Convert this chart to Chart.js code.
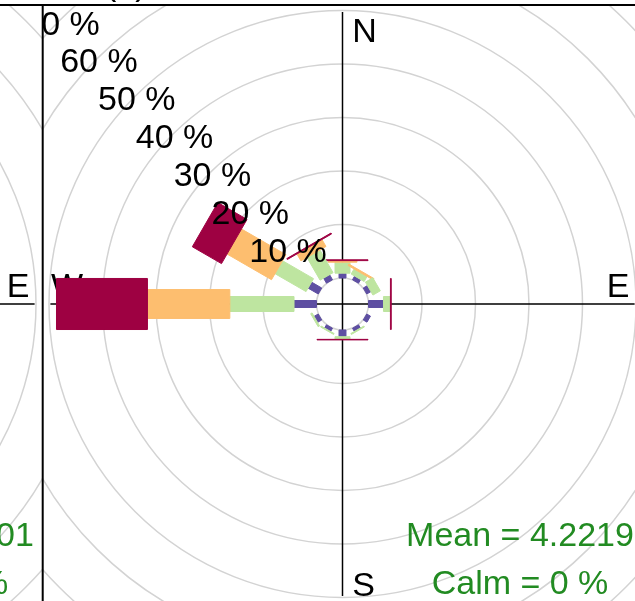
<!DOCTYPE html>
<html>
<head>
<meta charset="utf-8">
<script src="https://cdn.jsdelivr.net/npm/chart.js@4"></script>
<style>
html, body { margin: 0; padding: 0; background: #fff; overflow: hidden; }
canvas { display: block; }
</style>
</head>
<body>
<canvas id="rose" width="635" height="601"></canvas>
<script>
// wind direction sectors, degrees clockwise from north
const directions = [0, 30, 60, 90, 120, 150, 180, 210, 240, 270, 300, 330];
// % of time in each wind speed band, one value per direction
const band1 = [0.9, 0.8, 0.9, 2.8, 0.8, 0.7, 1.25, 0.7, 0.9, 4.2, 2.2, 1.1];
const band2 = [2.05, 1.1, 1.6, 1.3, 0, 0.2, 0.5, 0.2, 0.3, 12.0, 6.7, 4.9];
const band3 = [0.3, 0.3, 0, 0, 0, 0, 0, 0, 0, 15.4, 9.6, 1.5];
const band4 = [0.15, 0, 0, 0.15, 0, 0, 0.1, 0, 0, 17.0, 6.3, 0.2];
const bandColours = ['#5E4FA2', '#BEE5A0', '#FDBE6F', '#9E0142'];
// grid circles (%)
const ringTicks = [10, 20, 30, 40, 50, 60, 70];
const compass = ['N', 'E', 'S', 'W'];
// panel statistics
const meanText = 'Mean = 4.2219';
const calmText = 'Calm = 0 %';
const leftMeanText = 'Mean = 3.9801';
const leftCalmText = 'Calm = 0 %';
const stripText = '(a)';

// view set up: one data unit = 1 %, centre of the rose at 0,0
const unit = 5.35;          // px per % in the picture
const centre = [342.5, 304];
const off = 4.86;           // calm circle radius (in %)
const axisLen = 54.6;
const panelGap = 600 / unit;   // left panel centre offset
const borderX = (42.7 - centre[0]) / unit;
const borderY = (centre[1] - 5) / unit;
const halfWidths = [0.65, 1.4, 2.7, 4.77]; // paddle half widths (%)

const roseDraw = {
  id: 'roseDraw',
  afterDraw(chart) {
    const ctx = chart.ctx;
    const xs = chart.scales.x, ys = chart.scales.y;
    const px = v => xs.getPixelForValue(v);
    const py = v => ys.getPixelForValue(v);
    const rp = r => px(r) - px(0);
    const font = '34px "Liberation Sans", Arial, sans-serif';

    function text(str, x, y, align, colour) {
      ctx.font = font;
      ctx.fillStyle = colour || '#000';
      ctx.textAlign = align;
      ctx.textBaseline = 'alphabetic';
      ctx.fillText(str, px(x), py(y));
    }

    function panel(cx, clipL, clipR, bars, mean, calm) {
      ctx.save();
      ctx.beginPath();
      ctx.rect(px(clipL), py(borderY), px(clipR) - px(clipL), chart.height);
      ctx.clip();

      // grid circles
      ctx.strokeStyle = '#D3D3D3';
      ctx.lineWidth = 1.5;
      [0].concat(ringTicks).forEach(v => {
        ctx.beginPath();
        ctx.arc(px(cx), py(0), rp(off + v), 0, Math.PI * 2);
        ctx.stroke();
      });

      // axes
      ctx.strokeStyle = '#000';
      ctx.lineWidth = 1.5;
      ctx.beginPath();
      ctx.moveTo(px(cx - axisLen), py(0));
      ctx.lineTo(px(cx + axisLen), py(0));
      ctx.moveTo(px(cx), py(axisLen));
      ctx.lineTo(px(cx), py(-axisLen));
      ctx.stroke();

      // compass letters
      text(compass[0], cx + 1.8, 48.9, 'left');
      text(compass[2], cx + 1.8, -54.6, 'left');
      text(compass[1], cx + 51.5, 1.3, 'center');
      text(compass[3], cx - 51.5, 1.3, 'center');

      if (bars) {
        const bands = [band1, band2, band3, band4];
        directions.forEach((d, i) => {
          const t = d * Math.PI / 180;
          const ux = Math.sin(t), uy = Math.cos(t);
          const qx = Math.cos(t), qy = -Math.sin(t);
          let cum = 0;
          bands.forEach((b, k) => {
            const v = b[i];
            if (v <= 0) return;
            const r1 = off + cum, r2 = off + cum + v, w = halfWidths[k];
            cum += v;
            ctx.beginPath();
            ctx.moveTo(px(cx + r1 * ux + w * qx), py(r1 * uy + w * qy));
            ctx.lineTo(px(cx + r2 * ux + w * qx), py(r2 * uy + w * qy));
            ctx.lineTo(px(cx + r2 * ux - w * qx), py(r2 * uy - w * qy));
            ctx.lineTo(px(cx + r1 * ux - w * qx), py(r1 * uy - w * qy));
            ctx.closePath();
            ctx.fillStyle = bandColours[k];
            ctx.strokeStyle = bandColours[k];
            ctx.lineWidth = 1;
            ctx.fill();
            ctx.stroke();
          });
        });
      }

      // ring labels along the north west diagonal
      ringTicks.forEach(v => {
        const r = off + v - 0.47;
        const lx = cx - r * Math.SQRT1_2, ly = r * Math.SQRT1_2;
        ctx.font = font;
        ctx.fillStyle = '#000';
        ctx.textAlign = 'center';
        ctx.textBaseline = 'alphabetic';
        ctx.fillText(v + ' %', px(lx), py(ly) + 12);
      });

      text(mean, cx + 33.18, -45.2, 'center', '#228B22');
      text(calm, cx + 33.18, -54.2, 'center', '#228B22');
      ctx.restore();
    }

    panel(-panelGap, -1000, borderX, false, leftMeanText, leftCalmText);
    panel(0, borderX, 1000, true, meanText, calmText);

    // panel borders and strip
    ctx.save();
    ctx.strokeStyle = '#000';
    ctx.lineWidth = 2;
    ctx.beginPath();
    ctx.moveTo(0, py(borderY));
    ctx.lineTo(chart.width, py(borderY));
    ctx.moveTo(px(borderX), py(borderY));
    ctx.lineTo(px(borderX), chart.height);
    ctx.stroke();
    ctx.restore();
    text(stripText, (105 - centre[0]) / unit, (centre[1] + 5) / unit, 'left');
  }
};

new Chart(document.getElementById('rose').getContext('2d'), {
  type: 'scatter',
  data: { datasets: [{ data: [] }] },
  options: {
    responsive: false,
    animation: false,
    layout: { padding: 0 },
    plugins: { legend: { display: false }, tooltip: { enabled: false } },
    scales: {
      x: { type: 'linear', display: false, min: -centre[0] / unit, max: (635 - centre[0]) / unit },
      y: { type: 'linear', display: false, min: -(601 - centre[1]) / unit, max: centre[1] / unit }
    }
  },
  plugins: [roseDraw]
});
</script>
</body>
</html>
